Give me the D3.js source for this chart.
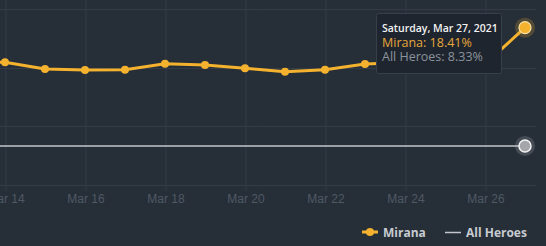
<!DOCTYPE html>
<html>
<head>
<meta charset="utf-8">
<script src="https://cdn.jsdelivr.net/npm/d3@7"></script>
<style>
  html, body { margin: 0; padding: 0; background: #262e38; overflow: hidden; }
  svg { display: block; font-family: "Open Sans", "DejaVu Sans", sans-serif; }
</style>
</head>
<body>
<svg id="chart" width="546" height="246"></svg>
<script>
'use strict';

// Data (pick rate, %)
var dates = ['2021-03-13', '2021-03-14', '2021-03-15', '2021-03-16', '2021-03-17',
  '2021-03-18', '2021-03-19', '2021-03-20', '2021-03-21', '2021-03-22',
  '2021-03-23', '2021-03-24', '2021-03-25', '2021-03-26', '2021-03-27'];
var miranaValues = [15.5, 15.46, 14.89, 14.80, 14.83, 15.34, 15.23, 14.95,
  14.66, 14.83, 15.31, 15.45, 15.4, 15.31, 18.41];
var allHeroesValues = [8.33, 8.33, 8.33, 8.33, 8.33, 8.33, 8.33, 8.33,
  8.33, 8.33, 8.33, 8.33, 8.33, 8.33, 8.33];
var xTickDates = ['2021-03-14', '2021-03-16', '2021-03-18', '2021-03-20',
  '2021-03-22', '2021-03-24', '2021-03-26'];
var yTicks = [5, 10, 15, 20];
var seriesNames = ['Mirana', 'All Heroes'];

var parse = d3.utcParse('%Y-%m-%d');
var fmtTick = d3.utcFormat('%b %d');
var fmtTip = d3.utcFormat('%A, %b %d, %Y');

var yellow = '#f4b22e',
  grey = '#c3c7cc',
  gridColor = '#333c47';

var svg = d3.select('#chart');

var x = d3.scaleUtc()
  .domain([parse('2021-03-14'), parse('2021-03-26')])
  .range([5, 485]);
var y = d3.scaleLinear().domain([5, 20]).range([185, 9]);

var mirana = dates.map(function(d, i) { return { date: parse(d), value: miranaValues[i] }; });
var allHeroes = dates.map(function(d, i) { return { date: parse(d), value: allHeroesValues[i] }; });

// Horizontal grid
svg.append('g')
  .selectAll('line')
  .data(yTicks)
  .join('line')
  .attr('x1', 0).attr('x2', 536)
  .attr('y1', function(d) { return Math.round(y(d)) + 0.5; })
  .attr('y2', function(d) { return Math.round(y(d)) + 0.5; })
  .attr('stroke', gridColor).attr('stroke-width', 1);

// Vertical grid + x labels via the axis
var xAxis = d3.axisBottom(x)
  .tickValues(xTickDates.map(parse))
  .tickFormat(fmtTick)
  .tickSize(191)
  .tickPadding(6);

var gx = svg.append('g').attr('transform', 'translate(0.5,0)').call(xAxis);
gx.select('.domain').remove();
gx.selectAll('.tick line').attr('stroke', gridColor);
gx.selectAll('.tick text')
  .attr('fill', '#4f5965')
  .attr('font-size', '12px')
  .attr('y', 203)
  .attr('dy', 0);

var line = d3.line()
  .x(function(d) { return x(d.date); })
  .y(function(d) { return y(d.value); });

// All Heroes
svg.append('path')
  .datum(allHeroes)
  .attr('d', line)
  .attr('fill', 'none')
  .attr('stroke', grey)
  .attr('stroke-width', 1.5);

// Mirana
svg.append('path')
  .datum(mirana)
  .attr('d', line)
  .attr('fill', 'none')
  .attr('stroke', yellow)
  .attr('stroke-width', 3)
  .attr('stroke-linejoin', 'round');

svg.append('g')
  .selectAll('circle')
  .data(mirana.slice(0, -1))
  .join('circle')
  .attr('cx', function(d) { return x(d.date); })
  .attr('cy', function(d) { return y(d.value); })
  .attr('r', 4)
  .attr('fill', yellow);

// Hovered points
var lastM = mirana[mirana.length - 1],
  lastA = allHeroes[allHeroes.length - 1];

svg.append('circle')
  .attr('cx', x(lastM.date)).attr('cy', y(lastM.value))
  .attr('r', 10).attr('fill', yellow).attr('opacity', 0.22);
svg.append('circle')
  .attr('cx', x(lastM.date)).attr('cy', y(lastM.value))
  .attr('r', 6).attr('fill', yellow)
  .attr('stroke', '#fbe3a6').attr('stroke-width', 1.2);

svg.append('circle')
  .attr('cx', x(lastA.date)).attr('cy', y(lastA.value))
  .attr('r', 10).attr('fill', grey).attr('opacity', 0.2);
svg.append('circle')
  .attr('cx', x(lastA.date)).attr('cy', y(lastA.value))
  .attr('r', 6).attr('fill', '#a3a7ab')
  .attr('stroke', '#f2f2f2').attr('stroke-width', 1.5);

// Tooltip
var tip = svg.append('g').attr('transform', 'translate(376,13)');
tip.append('rect')
  .attr('x', 0.5).attr('y', 0.5)
  .attr('width', 125).attr('height', 60)
  .attr('rx', 2)
  .attr('fill', '#1e252e')
  .attr('stroke', '#363f4a');
tip.append('text')
  .attr('x', 6).attr('y', 19)
  .attr('fill', '#f2f2f2')
  .attr('font-size', '10.5px')
  .attr('font-weight', 600)
  .text(fmtTip(lastM.date));
tip.append('text')
  .attr('x', 6).attr('y', 33.5)
  .attr('fill', '#e7a73b')
  .attr('font-size', '12.5px')
  .text(seriesNames[0] + ': ' + lastM.value.toFixed(2) + '%');
tip.append('text')
  .attr('x', 6).attr('y', 48)
  .attr('fill', '#8b939c')
  .attr('font-size', '12.5px')
  .text(seriesNames[1] + ': ' + lastA.value.toFixed(2) + '%');

// Legend
var legend = svg.append('g').attr('transform', 'translate(0,232)');
legend.append('line')
  .attr('x1', 362).attr('x2', 378).attr('y1', 0).attr('y2', 0)
  .attr('stroke', yellow).attr('stroke-width', 3);
legend.append('circle')
  .attr('cx', 370).attr('cy', 0).attr('r', 4).attr('fill', yellow);
legend.append('text')
  .attr('x', 383).attr('y', 4.5)
  .attr('fill', '#c6cbd1').attr('font-size', '12px').attr('font-weight', 700)
  .text(seriesNames[0]);
legend.append('line')
  .attr('x1', 445).attr('x2', 461).attr('y1', 0.5).attr('y2', 0.5)
  .attr('stroke', grey).attr('stroke-width', 1.5);
legend.append('text')
  .attr('x', 466).attr('y', 4.5)
  .attr('fill', '#c6cbd1').attr('font-size', '12px').attr('font-weight', 700)
  .text(seriesNames[1]);
</script>
</body>
</html>
